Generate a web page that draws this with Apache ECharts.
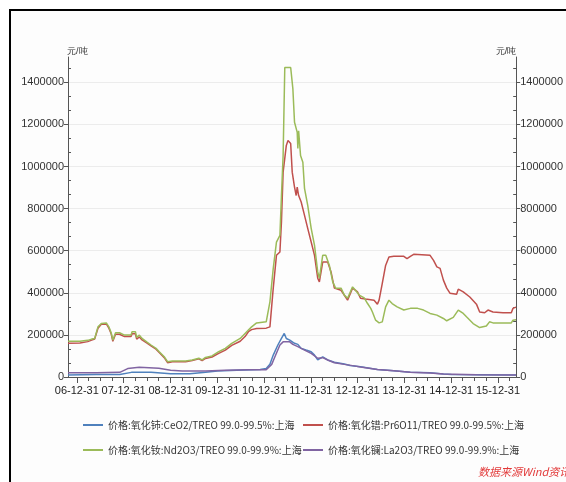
<!DOCTYPE html>
<html>
<head>
<meta charset="utf-8">
<script src="https://cdn.jsdelivr.net/npm/echarts@6/dist/echarts.min.js"></script>
<style>html,body{margin:0;padding:0;background:#fff}#c{width:566px;height:482px}</style>
</head>
<body>
<div id="c"></div>
<script>
// ---- data ----
const seriesNames = [
  '价格:氧化铈:CeO2/TREO 99.0-99.5%:上海',
  '价格:氧化镨:Pr6O11/TREO 99.0-99.5%:上海',
  '价格:氧化钕:Nd2O3/TREO 99.0-99.9%:上海',
  '价格:氧化镧:La2O3/TREO 99.0-99.9%:上海'
];
const yTickLabels = [0, 200000, 400000, 600000, 800000, 1000000, 1200000, 1400000];
const xTickYears = [2006, 2007, 2008, 2009, 2010, 2011, 2012, 2013, 2014, 2015];

const ceDates = ['2006-10-23','2007-06-01','2007-12-01','2008-03-01','2008-08-01','2009-01-01','2009-06-01','2009-10-01','2010-01-01','2010-06-01','2010-12-01','2011-01-17','2011-02-15','2011-03-13','2011-04-18','2011-05-16','2011-06-07','2011-06-23','2011-07-20','2011-08-26','2011-09-21','2011-10-17','2011-11-24','2012-01-03','2012-01-29','2012-02-23','2012-04-02','2012-05-11','2012-07-02','2012-09-18','2012-11-01','2013-01-22','2013-06-03','2013-10-09','2014-02-15','2014-07-19','2014-10-31','2015-01-01','2015-07-16','2016-05-20'];
const ceValues = [10000,12000,12000,22000,22000,16000,16000,22000,28000,32000,36000,40000,60000,104000,152000,183000,207000,183000,175000,160000,155000,136000,128000,120000,104000,81000,96000,81000,70000,62000,55000,49000,36000,30000,22000,20000,14000,12000,11000,10000];

const prDates = ['2006-10-23','2007-01-24','2007-03-26','2007-04-26','2007-05-19','2007-06-14','2007-07-10','2007-08-18','2007-09-07','2007-09-25','2007-10-08','2007-10-29','2007-11-29','2008-01-07','2008-02-27','2008-03-06','2008-04-01','2008-04-11','2008-05-02','2008-05-23','2008-06-28','2008-08-01','2008-09-09','2008-10-04','2008-11-12','2008-12-08','2009-01-15','2009-04-28','2009-06-19','2009-08-09','2009-09-04','2009-09-30','2009-11-20','2010-01-11','2010-03-04','2010-04-23','2010-06-28','2010-08-05','2010-08-31','2010-09-25','2010-11-03','2011-01-17','2011-02-15','2011-03-13','2011-04-07','2011-05-04','2011-05-16','2011-05-29','2011-06-23','2011-07-06','2011-07-27','2011-08-08','2011-08-26','2011-09-08','2011-09-16','2011-09-27','2011-10-17','2011-11-12','2011-12-07','2012-01-03','2012-01-29','2012-02-23','2012-03-07','2012-04-02','2012-05-11','2012-06-06','2012-07-02','2012-08-23','2012-10-13','2012-11-21','2012-12-30','2013-01-22','2013-03-02','2013-05-08','2013-06-03','2013-06-16','2013-07-11','2013-08-06','2013-09-01','2013-10-09','2013-12-26','2014-01-20','2014-02-15','2014-03-13','2014-07-19','2014-08-15','2014-09-10','2014-10-05','2014-10-31','2014-11-26','2014-12-21','2015-02-11','2015-02-24','2015-04-04','2015-05-25','2015-07-16','2015-08-10','2015-09-18','2015-10-14','2015-11-22','2016-02-08','2016-04-13','2016-04-26','2016-05-20'];
const prValues = [160000,162000,168000,175000,180000,232000,250000,252000,232000,205000,170000,203000,203000,192000,192000,205000,205000,180000,190000,176000,162000,148000,132000,116000,92000,68000,72000,72000,78000,86000,78000,88000,95000,112000,128000,150000,170000,192000,215000,225000,230000,232000,238000,422000,578000,594000,736000,973000,1100000,1123000,1109000,973000,902000,862000,902000,862000,831000,768000,706000,641000,578000,469000,452000,546000,546000,499000,422000,412000,365000,422000,404000,374000,370000,365000,346000,365000,445000,530000,570000,573000,573000,562000,573000,583000,578000,554000,523000,516000,460000,422000,398000,393000,417000,404000,380000,346000,309000,305000,318000,309000,305000,305000,326000,332000];

const ndDates = ['2006-10-23','2007-01-24','2007-03-26','2007-04-26','2007-05-19','2007-06-14','2007-07-10','2007-08-18','2007-09-07','2007-09-25','2007-10-08','2007-10-29','2007-11-29','2008-01-07','2008-02-27','2008-03-06','2008-04-01','2008-04-11','2008-05-02','2008-05-23','2008-06-28','2008-08-01','2008-09-09','2008-10-04','2008-11-12','2008-12-08','2009-01-15','2009-04-28','2009-06-19','2009-08-09','2009-09-04','2009-09-30','2009-11-20','2010-01-11','2010-03-04','2010-04-23','2010-06-28','2010-08-05','2010-08-31','2010-09-25','2010-11-03','2011-01-17','2011-02-15','2011-03-13','2011-04-07','2011-05-04','2011-05-16','2011-05-29','2011-06-11','2011-07-27','2011-08-13','2011-08-26','2011-09-16','2011-09-21','2011-09-27','2011-10-12','2011-10-30','2011-11-12','2011-12-07','2012-01-03','2012-01-29','2012-02-23','2012-03-07','2012-04-02','2012-04-26','2012-05-24','2012-06-19','2012-07-12','2012-08-23','2012-09-18','2012-10-13','2012-11-21','2012-12-14','2013-01-12','2013-02-20','2013-03-18','2013-04-12','2013-04-25','2013-05-20','2013-06-16','2013-07-11','2013-08-06','2013-09-01','2013-09-26','2013-11-04','2013-12-26','2014-02-15','2014-04-13','2014-05-29','2014-07-19','2014-09-10','2014-10-31','2014-11-26','2015-01-16','2015-02-24','2015-04-04','2015-04-29','2015-06-20','2015-08-10','2015-10-01','2015-10-26','2015-11-22','2016-04-13','2016-04-26','2016-05-20'];
const ndValues = [170000,170000,174000,180000,183000,238000,254000,257000,238000,210000,175000,210000,210000,199000,199000,215000,215000,188000,199000,183000,167000,152000,136000,120000,96000,73000,76000,76000,81000,89000,81000,93000,100000,120000,136000,160000,183000,207000,223000,238000,257000,262000,357000,516000,641000,673000,862000,1052000,1470000,1470000,1370000,1210000,1162000,1085000,1170000,1052000,1020000,896000,815000,706000,625000,499000,469000,578000,578000,530000,452000,422000,422000,389000,374000,428000,412000,389000,376000,349000,326000,309000,270000,257000,262000,333000,365000,349000,333000,318000,326000,326000,318000,302000,294000,278000,267000,283000,318000,302000,286000,254000,235000,242000,262000,257000,257000,270000,272000];

const laDates = ['2006-10-23','2007-06-01','2007-12-01','2008-02-01','2008-05-01','2008-10-01','2009-01-01','2009-04-01','2009-10-01','2010-03-01','2010-09-01','2011-01-17','2011-03-01','2011-03-26','2011-05-04','2011-05-29','2011-07-20','2011-08-13','2011-09-21','2011-11-12','2012-01-03','2012-02-23','2012-04-02','2012-05-11','2012-07-02','2012-09-18','2012-11-21','2013-01-22','2013-06-03','2013-10-09','2014-02-15','2014-07-19','2014-10-31','2015-07-16','2016-05-20'];
const laValues = [20000,20000,22000,40000,46000,42000,32000,28000,28000,32000,34000,34000,60000,96000,152000,167000,167000,155000,144000,128000,112000,89000,92000,81000,68000,60000,54000,48000,36000,30000,22000,19000,14000,11000,10000];

// ---- build ----
const colors = ['#4F81BD', '#C0504D', '#9BBB59', '#8064A2'];
function toPairs(dates, values) {
  return dates.map((d, i) => [Date.parse(d), values[i]]);
}
const seriesData = [toPairs(ceDates, ceValues), toPairs(prDates, prValues), toPairs(ndDates, ndValues), toPairs(laDates, laValues)];

const xMin = Date.parse('2006-10-23');
const xMax = Date.parse('2016-05-21');
const yearEnds = xTickYears.map(y => Date.UTC(y, 11, 31));
const quarterTicks = [];
for (let y = 2006; y <= 2016; y++) {
  [2, 5, 8, 11].forEach(m => {
    const t = Date.UTC(y, m + 1, 0);
    if (t >= xMin && t <= xMax) quarterTicks.push(t);
  });
}

const labelFont = 'Liberation Sans, Arial, sans-serif';
const axisColor = '#555';

const chart = echarts.init(document.getElementById('c'), null, {renderer: 'canvas'});
const yAxisCommon = {
  type: 'value', min: 0, max: 1520000, interval: 200000,
  name: '元/吨', nameLocation: 'end', nameGap: 1,
  axisLine: {show: true, lineStyle: {color: axisColor, width: 1}},
  axisTick: {show: true, length: 4, customValues: yTickLabels, lineStyle: {color: axisColor}},
  minorTick: {show: true, splitNumber: 3, length: -3, lineStyle: {color: axisColor}},
  axisLabel: {customValues: yTickLabels, formatter: v => String(v), fontSize: 11, color: '#333', fontFamily: labelFont, margin: 4},
  splitLine: {show: true, lineStyle: {color: '#ececec', width: 1}}
};
const legendCommon = {
  orient: 'vertical', top: 415, itemGap: 15, itemWidth: 20, itemHeight: 2, icon: 'rect',
  textStyle: {fontSize: 10, color: '#333', fontFamily: '"Noto Sans CJK SC", sans-serif'}
};

chart.setOption({
  animation: false,
  backgroundColor: '#ffffff',
  color: colors,
  graphic: [
    {type: 'rect', silent: true, z: -100, shape: {x: 10, y: 10, width: 600, height: 520}, style: {fill: '#fdfdfd', stroke: '#000', lineWidth: 2}},
    {type: 'text', silent: true, left: 478, top: 466, style: {text: '数据来源Wind资讯', fill: '#e23a3a', font: 'italic 11px "Noto Sans CJK SC", sans-serif'}}
  ],
  grid: {left: 68, right: 46, top: 57, bottom: 105, containLabel: false},
  legend: [
    Object.assign({}, legendCommon, {left: 78, data: [seriesNames[0], seriesNames[2]]}),
    Object.assign({}, legendCommon, {left: 298, data: [seriesNames[1], seriesNames[3]]})
  ],
  xAxis: [
    {type: 'value', min: xMin, max: xMax, position: 'bottom',
     axisLine: {show: true, onZero: false, lineStyle: {color: axisColor, width: 1}},
     axisTick: {show: true, length: 6, customValues: yearEnds, lineStyle: {color: axisColor}},
     axisLabel: {customValues: yearEnds, fontSize: 11, color: '#222', fontFamily: labelFont, margin: 8,
       formatter: v => { const d = new Date(v); return String(d.getUTCFullYear()).slice(2) + '-12-31'; }},
     splitLine: {show: false}},
    {type: 'value', min: xMin, max: xMax, position: 'bottom',
     axisLine: {show: false, onZero: false},
     axisTick: {show: true, length: 4, customValues: quarterTicks, lineStyle: {color: axisColor}},
     axisLabel: {show: false},
     splitLine: {show: false}}
  ],
  yAxis: [
    Object.assign({}, yAxisCommon, {position: 'left', nameTextStyle: {fontSize: 9, color: '#333', align: 'left', padding: [0, 0, 0, -1]}}),
    Object.assign({}, yAxisCommon, {position: 'right', nameTextStyle: {fontSize: 9, color: '#333', align: 'right'}, splitLine: {show: false}})
  ],
  series: seriesNames.map((n, i) => ({
    name: n, type: 'line', xAxisIndex: 0, yAxisIndex: 0,
    data: seriesData[i], symbol: 'none', showSymbol: false,
    lineStyle: {width: 1.5, color: colors[i]}, itemStyle: {color: colors[i]}
  }))
});
</script>
</body>
</html>
